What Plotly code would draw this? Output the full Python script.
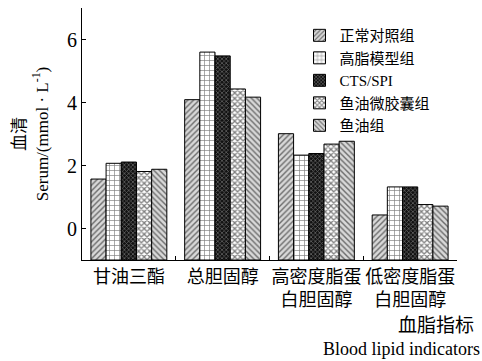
import plotly.graph_objects as go

categories = ["甘油三酯", "总胆固醇", "高密度脂蛋<br>白胆固醇", "低密度脂蛋<br>白胆固醇"]
groups = ["正常对照组", "高脂模型组", "CTS/SPI", "鱼油微胶囊组", "鱼油组"]
normal_ctrl = [1.57, 4.09, 3.01, 0.43]
high_fat = [2.07, 5.60, 2.33, 1.32]
cts_spi = [2.11, 5.48, 2.38, 1.32]
fish_micro = [1.81, 4.43, 2.68, 0.76]
fish_oil = [1.88, 4.17, 2.77, 0.71]
series = [normal_ctrl, high_fat, cts_spi, fish_micro, fish_oil]
y_ticks = [0, 2, 4, 6]
axis_floor = -1

patterns = [
    dict(shape="/", fgcolor="black", bgcolor="#d8d8d8", size=4, solidity=0.35),
    dict(shape="+", fgcolor="black", bgcolor="white", size=5, solidity=0.25),
    dict(shape="x", fgcolor="#b0b0b0", bgcolor="#111111", size=3, solidity=0.45),
    dict(shape="x", fgcolor="black", bgcolor="white", size=4, solidity=0.55),
    dict(shape="\\", fgcolor="black", bgcolor="#d8d8d8", size=4, solidity=0.35),
]

SERIF = "Liberation Serif, Noto Sans CJK SC, serif"

fig = go.Figure()
for name, vals, pat in zip(groups, series, patterns):
    fig.add_trace(go.Bar(
        name=name,
        x=categories,
        y=[v - axis_floor for v in vals],
        base=axis_floor,
        customdata=vals,
        hovertemplate="%{customdata}<extra>" + name + "</extra>",
        marker=dict(color="white", pattern=pat, line=dict(color="black", width=1)),
    ))

fig.update_layout(
    width=482, height=361,
    margin=dict(l=82, r=25, t=8, b=101),
    paper_bgcolor="white", plot_bgcolor="white",
    barmode="group", bargap=0.19, bargroupgap=0,
    font=dict(family=SERIF, color="black", size=16),
    showlegend=True,
    legend=dict(x=0.58, y=0.956, xanchor="left", yanchor="top",
                bgcolor="rgba(0,0,0,0)", font=dict(size=15, family=SERIF),
                tracegroupgap=0, itemwidth=30),
    xaxis=dict(type="category", tickson="boundaries", ticks="inside", ticklen=4,
               tickcolor="black", showline=True, linecolor="black", linewidth=1,
               showgrid=False, tickangle=0, automargin=False,
               tickfont=dict(size=18, family=SERIF)),
    yaxis=dict(range=[-1, 7], tickvals=y_ticks, ticks="inside", ticklen=4,
               tickcolor="black", showline=True, linecolor="black", linewidth=1,
               showgrid=False, zeroline=False, automargin=False,
               tickfont=dict(size=20, family=SERIF),
               title=dict(text="血清<br>Serum/(mmol · L<sup>-1</sup>)",
                          font=dict(size=17, family=SERIF), standoff=14)),
)

fig.add_annotation(text="血脂指标", xref="paper", yref="paper", x=1.05, y=-0.26,
                   xanchor="right", yanchor="middle", showarrow=False,
                   font=dict(size=19, family=SERIF))
fig.add_annotation(text="Blood lipid indicators", xref="paper", yref="paper", x=1.066, y=-0.355,
                   xanchor="right", yanchor="middle", showarrow=False,
                   font=dict(size=18, family=SERIF))

fig.write_html("out.html", config={"displayModeBar": False},
               post_script="document.body.style.margin='0';")
